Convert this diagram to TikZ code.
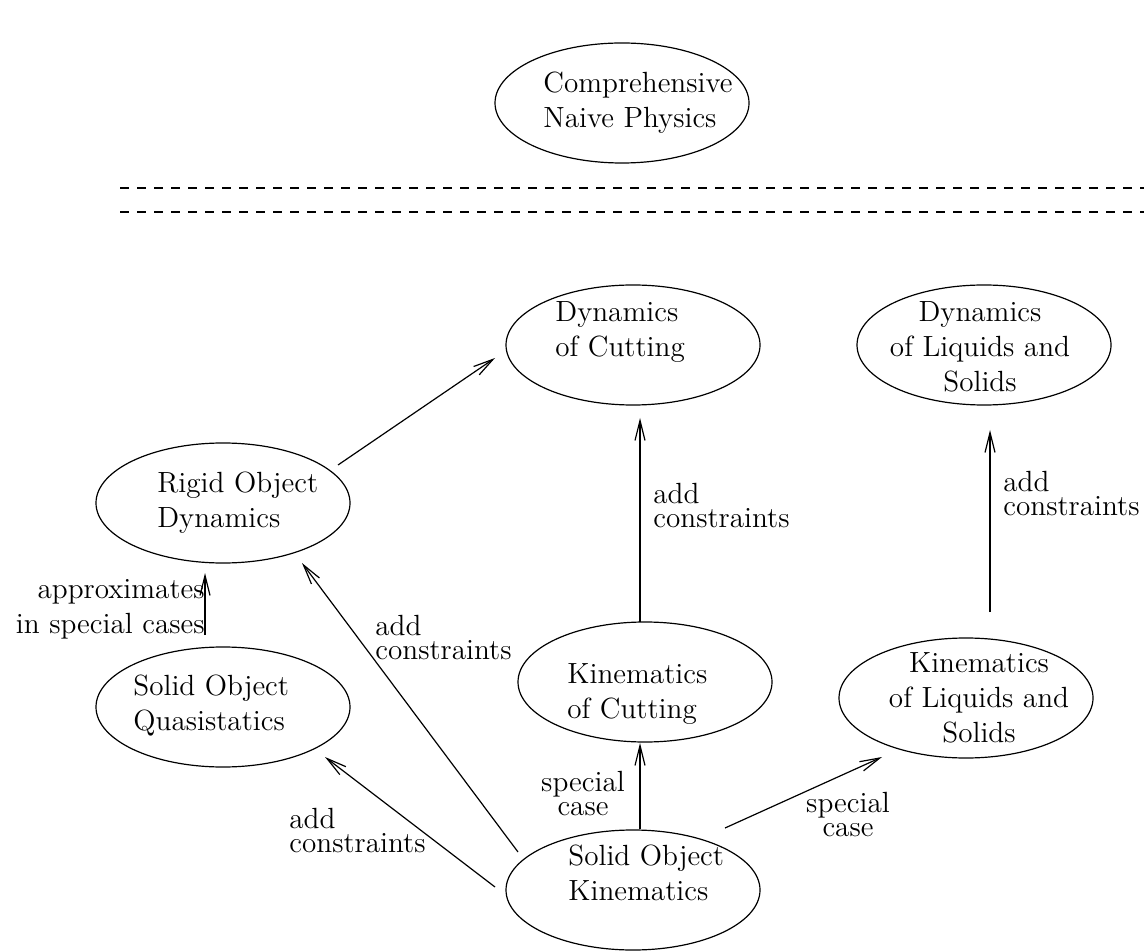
\documentclass[tikz,border=0pt]{standalone}
\usetikzlibrary{arrows.meta,shapes.geometric}

\tikzset{
  blob/.style={draw, ellipse, minimum width=127pt, minimum height=60pt, inner sep=0pt, line width=0.6pt},
  txt/.style={inner sep=0pt, align=left, font=\fontsize{14.6}{17.5}\selectfont},
  lbl/.style={inner sep=0pt, font=\fontsize{14.6}{12}\selectfont},
  arr/.style={line width=0.6pt, -{Straight Barb[length=10pt,width=5pt,line width=0.6pt]}},
  sepline/.style={line width=0.6pt, dash pattern=on 4.5pt off 4pt}
}

\begin{document}
\begin{tikzpicture}[x=0.5pt,y=-0.5pt]
        \useasboundingbox (0,0) rectangle (1144,951);
        % ellipses
        \node[blob] (cnp)  at (622,103) {};
        \node[blob] (dcut) at (633,345) {};
        \node[blob] (dliq) at (984,345) {};
        \node[blob] (rod)  at (223,503) {};
        \node[blob] (soq)  at (223,707) {};
        \node[blob] (kcut) at (645,682) {};
        \node[blob] (kliq) at (966,698) {};
        \node[blob] (sok)  at (633,890) {};
        % their texts (base = last line)
        \node[txt, anchor=base west] (cnptext)  at (543,128) {Comprehensive\\Naive Physics};
        \node[txt, anchor=base west] (dcuttext) at (555,357) {Dynamics\\of Cutting};
        \node[txt, anchor=base, align=center] (dliqtext) at (980,392) {Dynamics\\of Liquids and\\Solids};
        \node[txt, anchor=base west] (rodtext)  at (157,527) {Rigid Object\\Dynamics};
        \node[txt, anchor=base west] (soqtext)  at (133,730) {Solid Object\\Quasistatics};
        \node[txt, anchor=base west] (kcuttext) at (567,718) {Kinematics\\of Cutting};
        \node[txt, anchor=base, align=center] (kliqtext) at (979,742) {Kinematics\\of Liquids and\\Solids};
        \node[txt, anchor=base west] (soktext)  at (568,900) {Solid Object\\Kinematics};
        % separator
        \draw[sepline] (120,188) -- (1144,188);
        \draw[sepline] (120,212) -- (1144,212);
        % arrow ends
        \coordinate (rodA)  at (338,465);
        \coordinate (dcutA) at (495,358);
        \coordinate (kcutA) at (640,622);
        \coordinate (dcutB) at (640,418);
        \coordinate (kliqA) at (990,612);
        \coordinate (dliqA) at (990,430);
        \coordinate (soqA)  at (205,635);
        \coordinate (rodB)  at (205,573);
        \coordinate (sokA)  at (518,852);
        \coordinate (rodC)  at (302,563);
        \coordinate (sokB)  at (495,887);
        \coordinate (soqB)  at (325,757);
        \coordinate (sokC)  at (640,829);
        \coordinate (kcutB) at (640,743);
        \coordinate (sokD)  at (725,828);
        \coordinate (kliqB) at (882,757);
        % arrows
        \draw[arr] (rodA) -- (dcutA);
        \draw[arr] (kcutA) -- (dcutB);
        \draw[arr] (kliqA) -- (dliqA);
        \draw[arr] (soqA) -- (rodB);
        \draw[arr] (sokA) -- (rodC);
        \draw[arr] (sokB) -- (soqB);
        \draw[arr] (sokC) -- (kcutB);
        \draw[arr] (sokD) -- (kliqB);
        % labels
        \node[lbl, anchor=base west, align=left] (addA) at (653,527) {add\\constraints};
        \node[lbl, anchor=base west, align=left] (addB) at (1003,515) {add\\constraints};
        \node[lbl, anchor=base west, align=left] (addC) at (375,659) {add\\constraints};
        \node[lbl, anchor=base west, align=left] (addD) at (289,852) {add\\constraints};
        \node[lbl, anchor=base, align=center] (specA) at (583,815) {special\\case};
        \node[lbl, anchor=base, align=center] (specB) at (848,836) {special\\case};
        \node[txt, anchor=base east, align=right] (approx) at (205,633) {approximates\\in special cases};
    \end{tikzpicture}
\end{document}
